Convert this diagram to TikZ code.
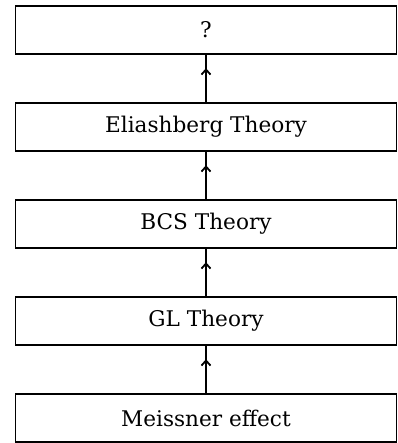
\documentclass[tikz,border=0pt]{standalone}
\usepackage{fontspec}
\setmainfont{DejaVu Serif}
\usetikzlibrary{positioning,arrows.meta,calc}

\begin{document}
\begin{tikzpicture}[
    node distance=24.5pt,
    >={Straight Barb[length=2.5pt,width=4.5pt]},
    line width=0.9pt,
    box/.style={draw, minimum width=190.5pt, minimum height=24pt, inner sep=0pt, outer sep=0pt, align=center, font=\fontsize{10.8}{12}\selectfont}
]
\useasboundingbox (0,0) rectangle (198.5pt,-221.5pt);
\node[box] (unknown) at (103pt,-15pt) {?};
\node[box, below=of unknown] (elias) {Eliashberg Theory};
\node[box, below=of elias] (bcs) {BCS Theory};
\node[box, below=of bcs] (gl) {GL Theory};
\node[box, below=of gl] (meissner) {Meissner effect};
% arrows with the head part way up
\draw (meissner.north) -- (gl.south);
\draw[->] (meissner.north) -- ($(meissner.north)!0.71!(gl.south)$);
\draw (gl.north) -- (bcs.south);
\draw[->] (gl.north) -- ($(gl.north)!0.71!(bcs.south)$);
\draw (bcs.north) -- (elias.south);
\draw[->] (bcs.north) -- ($(bcs.north)!0.71!(elias.south)$);
\draw (elias.north) -- (unknown.south);
\draw[->] (elias.north) -- ($(elias.north)!0.71!(unknown.south)$);
\end{tikzpicture}
\end{document}
